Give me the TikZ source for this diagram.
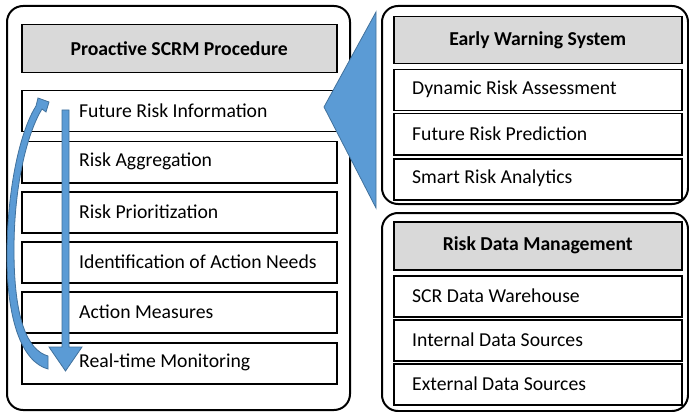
\documentclass[tikz,border=0pt]{standalone}
\usepackage{fontspec}
\setmainfont{Carlito}
\begin{document}
\begin{tikzpicture}[x=1pt,y=-1pt,
  outerbox/.style={draw=black,line width=2pt,rounded corners=16pt,fill=white},
  headbox/.style={draw=black,line width=1.5pt,fill=headgray,anchor=north west,inner sep=0pt,font=\fontsize{19.7}{22}\selectfont\bfseries},
  rowbox/.style={draw=black,line width=1.5pt,fill=white,anchor=north west,inner sep=0pt},
  rowtext/.style={anchor=west,inner sep=0pt,font=\fontsize{19.7}{22}\selectfont},
  bluefill/.style={fill=arrowblue,draw=arrowedge,line width=0.8pt}]
\definecolor{headgray}{HTML}{D9D9D9}
\definecolor{arrowblue}{HTML}{5B9BD5}
\definecolor{arrowedge}{HTML}{41719C}
\useasboundingbox (0,0) rectangle (689,412);
% left panel
\draw[outerbox] (7,6) rectangle (350,410);
\node[headbox,minimum width=315pt,minimum height=48pt] (lh) at (21,24) {Proactive SCRM Procedure};
\node[rowbox,minimum width=315pt,minimum height=41pt] (l1) at (21,90) {};
\node[rowbox,minimum width=315pt,minimum height=41pt] (l2) at (21,141) {};
\node[rowbox,minimum width=315pt,minimum height=41pt] (l3) at (21,191) {};
\node[rowbox,minimum width=315pt,minimum height=41pt] (l4) at (21,241) {};
\node[rowbox,minimum width=315pt,minimum height=41pt] (l5) at (21,291) {};
\node[rowbox,minimum width=315pt,minimum height=41pt] (l6) at (21,342) {};
\node[rowtext] (l1t) at (79,110.5) {Future Risk Information};
\node[rowtext] (l2t) at (79,161.5) {Risk Aggregation};
\node[rowtext] (l3t) at (79,211.5) {Risk Prioritization};
\node[rowtext] (l4t) at (79,261.5) {Identification of Action Needs};
\node[rowtext] (l5t) at (79,311.5) {Action Measures};
\node[rowtext] (l6t) at (79,362.5) {Real-time Monitoring};
% right top panel
\draw[outerbox] (382,6) rectangle (688,204);
\node[headbox,minimum width=288pt,minimum height=47pt] (eh) at (393,16) {Early Warning System};
\node[rowbox,minimum width=288pt,minimum height=41pt] (e1) at (393,69) {};
\node[rowbox,minimum width=288pt,minimum height=41pt] (e2) at (393,113) {};
\node[rowbox,minimum width=288pt,minimum height=41pt] (e3) at (393,158) {};
\node[rowtext] (e1t) at (412,89.5) {Dynamic Risk Assessment};
\node[rowtext] (e2t) at (412,133.5) {Future Risk Prediction};
\node[rowtext] (e3t) at (412,178.5) {Smart Risk Analytics};
% right bottom panel
\draw[outerbox] (382,213) rectangle (688,411);
\node[headbox,minimum width=288pt,minimum height=48pt] (dh) at (393,221) {Risk Data Management};
\node[rowbox,minimum width=288pt,minimum height=41pt] (d1) at (393,275) {};
\node[rowbox,minimum width=288pt,minimum height=41pt] (d2) at (393,319) {};
\node[rowbox,minimum width=288pt,minimum height=41pt] (d3) at (393,363) {};
\node[rowtext] (d1t) at (412,295.5) {SCR Data Warehouse};
\node[rowtext] (d2t) at (412,339.5) {Internal Data Sources};
\node[rowtext] (d3t) at (412,383.5) {External Data Sources};
% big triangle
\draw[bluefill] (324,107) -- (376,12) -- (376,208) -- cycle;
% down arrow
\draw[bluefill] (62,110) -- (69,110) -- (69,347) -- (82,347) -- (65.5,371) -- (49,347) -- (62,347) -- cycle;
% curved return arrow
\draw[bluefill] (48,369) .. controls (22,362) and (6,320) .. (7,250)
  .. controls (8,180) and (22,128) .. (36,106) -- (38,98) -- (49,102) -- (46,112) -- (42,109)
  .. controls (29,130) and (14,180) .. (14,250)
  .. controls (14,318) and (27,350) .. (48,356) -- cycle;
\end{tikzpicture}
\end{document}
